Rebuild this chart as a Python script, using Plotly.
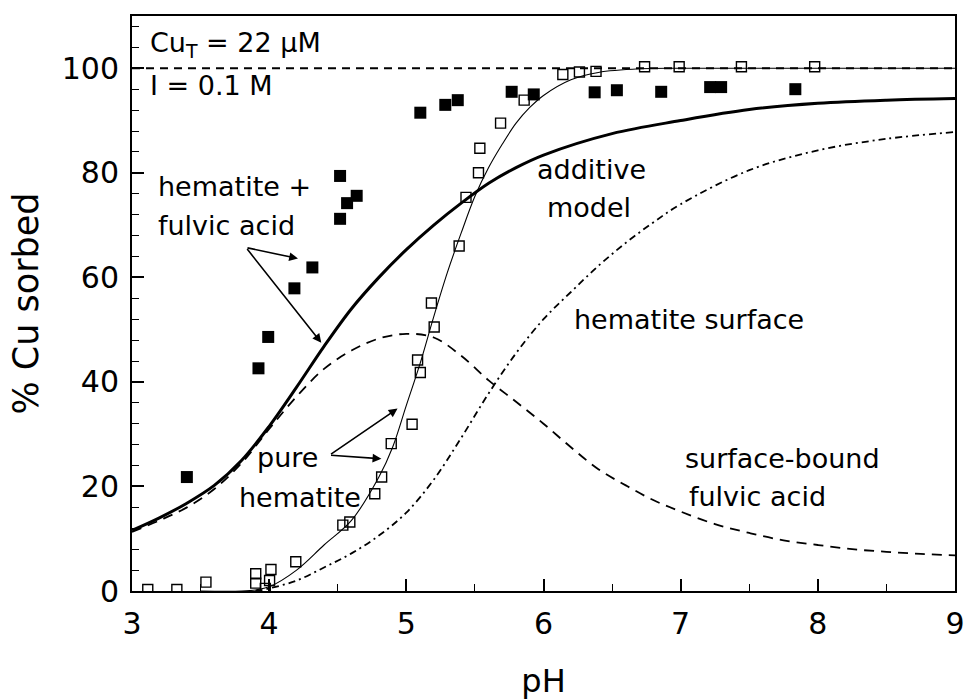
import plotly.graph_objects as go

# ---------------- data ----------------
# hematite + fulvic acid (filled squares)
ph_fa = [3.40, 3.922, 3.993, 4.184, 4.315, 4.517, 4.517, 4.568, 4.638, 5.102, 5.284, 5.375,
         5.768, 5.929, 6.373, 6.535, 6.858, 7.215, 7.295, 7.836]
cu_fa = [21.8, 42.6, 48.6, 57.9, 61.9, 71.2, 79.4, 74.2, 75.6, 91.5, 93.0, 93.9,
         95.5, 95.0, 95.4, 95.8, 95.5, 96.4, 96.4, 96.0]

# pure hematite (open squares)
ph_hem = [3.115, 3.327, 3.539, 3.902, 3.902, 3.972, 4.003, 4.013, 4.194, 4.537, 4.588, 4.770,
          4.820, 4.890, 5.042, 5.082, 5.102, 5.183, 5.203, 5.385, 5.435, 5.526, 5.536, 5.687,
          5.859, 6.141, 6.262, 6.383, 6.737, 6.989, 7.443, 7.977]
cu_hem = [0.3, 0.3, 1.7, 1.5, 3.3, 0.5, 2.0, 4.1, 5.6, 12.6, 13.2, 18.6,
          21.8, 28.2, 31.9, 44.2, 41.8, 55.1, 50.5, 66.0, 75.3, 80.0, 84.7, 89.5,
          93.9, 98.8, 99.3, 99.4, 100.3, 100.3, 100.3, 100.3]

# pure hematite model (thin solid)
ph_hem_model = [3.5, 3.8, 3.9, 4.0, 4.2, 4.4, 4.6, 4.8, 4.9, 5.0, 5.1, 5.2, 5.3, 5.4,
                5.5, 5.6, 5.7, 5.8, 5.9, 6.0, 6.2, 6.4, 6.7, 7.0, 8.0, 9.0]
cu_hem_model = [0.0, 0.0, 0.2, 0.8, 4.0, 8.8, 13.5, 21.8, 27.5, 35.5, 43.5, 52.5, 61.0, 68.5,
                75.5, 81.0, 85.5, 89.5, 92.5, 94.8, 97.8, 99.2, 99.9, 100.0, 100.0, 100.0]

# additive model (thick solid)
ph_add = [3.0, 3.2, 3.4, 3.6, 3.8, 4.0, 4.2, 4.4, 4.6, 4.8, 5.0, 5.2, 5.4, 5.6, 5.8,
          6.0, 6.5, 7.0, 7.5, 8.0, 8.5, 9.0]
cu_add = [11.6, 14.0, 16.8, 20.2, 25.0, 31.5, 39.0, 46.8, 54.0, 60.0, 65.3, 70.0, 74.2,
          78.0, 81.0, 83.4, 87.5, 90.0, 92.1, 93.3, 93.9, 94.2]

# surface-bound fulvic acid (dashed)
ph_sfa = [3.0, 3.2, 3.4, 3.6, 3.8, 4.0, 4.2, 4.4, 4.6, 4.8, 5.0, 5.2, 5.4, 5.6, 5.8,
          6.0, 6.2, 6.4, 6.6, 6.8, 7.0, 7.25, 7.5, 7.75, 8.0, 8.25, 8.5, 8.75, 9.0]
cu_sfa = [11.3, 13.5, 16.0, 19.5, 24.5, 31.0, 37.2, 42.5, 46.0, 48.3, 49.2, 48.5, 45.0,
          40.3, 36.2, 32.0, 27.5, 23.3, 20.2, 17.4, 15.2, 12.8, 11.1, 9.7, 8.8, 8.0,
          7.5, 7.1, 6.8]

# hematite surface (dash-dot)
ph_hs = [3.9, 4.0, 4.2, 4.4, 4.6, 4.8, 5.0, 5.2, 5.4, 5.6, 5.8, 6.0, 6.2, 6.4, 6.6,
         6.8, 7.0, 7.5, 8.0, 8.5, 9.0]
cu_hs = [0.0, 0.5, 2.0, 4.5, 7.2, 10.6, 15.0, 21.3, 29.3, 37.8, 45.5, 52.0, 57.2, 62.2,
         66.6, 70.5, 74.0, 80.5, 84.3, 86.5, 87.8]

# 100 % reference line
ph_ref = [3.0, 9.0]
cu_ref = [100.0, 100.0]

x_ticks = [3, 4, 5, 6, 7, 8, 9]
y_ticks = [0, 20, 40, 60, 80, 100]

FONT = "DejaVu Sans"

fig = go.Figure()

fig.add_trace(go.Scatter(x=ph_ref, y=cu_ref, mode="lines",
                         line=dict(color="black", width=1.8, dash="8px,6px")))
fig.add_trace(go.Scatter(x=ph_hs, y=cu_hs, mode="lines", line_shape="spline",
                         line=dict(color="black", width=1.8, dash="7px,4px,2px,4px")))
fig.add_trace(go.Scatter(x=ph_sfa, y=cu_sfa, mode="lines", line_shape="spline",
                         line=dict(color="black", width=1.8, dash="10px,7px")))
fig.add_trace(go.Scatter(x=ph_add, y=cu_add, mode="lines", line_shape="spline",
                         line=dict(color="black", width=3)))
fig.add_trace(go.Scatter(x=ph_hem_model, y=cu_hem_model, mode="lines", line_shape="spline",
                         line=dict(color="black", width=1.1)))
fig.add_trace(go.Scatter(x=ph_hem, y=cu_hem, mode="markers", cliponaxis=True,
                         marker=dict(symbol="square-open", size=10, color="black",
                                     line=dict(width=1.4, color="black"))))
fig.add_trace(go.Scatter(x=ph_fa, y=cu_fa, mode="markers",
                         marker=dict(symbol="square", size=12, color="black",
                                     line=dict(width=0))))

def label(text, x, y, anchor="center"):
    return dict(text=text, x=x, y=y, xref="x", yref="y", showarrow=False,
                xanchor=anchor, yanchor="middle",
                font=dict(family=FONT, size=27, color="black"))

def arrow(x, y, ax, ay):
    return dict(text="", x=x, y=y, ax=ax, ay=ay, xref="x", yref="y",
                axref="x", ayref="y", showarrow=True, arrowhead=2,
                arrowsize=1.1, arrowwidth=1.6, arrowcolor="black",
                standoff=0, startstandoff=0)

annotations = [
    label("Cu<sub>T</sub> = 22 µM", 3.115, 104.6, "left"),
    label("I = 0.1 M", 3.115, 96.7, "left"),
    label("hematite +", 3.176, 77.4, "left"),
    label("fulvic acid", 3.176, 69.9, "left"),
    label("additive", 6.349, 80.6),
    label("model", 6.330, 73.3),
    label("hematite surface", 7.059, 52.0),
    label("pure", 4.131, 25.6),
    label("hematite", 4.222, 17.9),
    label("surface-bound", 7.741, 25.4),
    label("fulvic acid", 7.562, 18.0),
    arrow(4.210, 63.6, 3.831, 65.7),
    arrow(4.380, 47.5, 3.831, 65.7),
    arrow(4.936, 34.9, 4.440, 26.0),
    arrow(4.818, 25.3, 4.440, 26.0),
]

axis_common = dict(
    showline=True, linewidth=2, linecolor="black", mirror=True, automargin=False,
    showgrid=False, zeroline=False, ticks="inside", ticklen=12, tickwidth=1.6,
    tickcolor="black", tickfont=dict(family=FONT, size=30, color="black"),
    ticklabeloverflow="allow",
)

fig.update_layout(
    width=967, height=700,
    margin=dict(l=132, r=12, t=16, b=109),
    paper_bgcolor="white", plot_bgcolor="white",
    showlegend=False,
    annotations=annotations,
    xaxis=dict(range=[3, 9], tickvals=x_ticks,
               minor=dict(dtick=0.5, ticks="inside", ticklen=7, tickwidth=1.4, tickcolor="black"),
               ticklabelstandoff=5,
               title=dict(text="pH", font=dict(family=FONT, size=32, color="black"), standoff=45),
               **axis_common),
    yaxis=dict(range=[0, 110], tickvals=y_ticks,
               minor=dict(dtick=4, ticks="inside", ticklen=7, tickwidth=1.4, tickcolor="black"),
               ticklabelstandoff=5,
               title=dict(text="% Cu sorbed", font=dict(family=FONT, size=35, color="black"), standoff=12),
               **axis_common),
)

# remove the default 8px page margin so the 967x700 figure fills the window exactly
fig.write_html(
    "out.html",
    config={"displayModeBar": False},
    post_script="document.body.style.margin='0';document.body.style.overflow='hidden';",
)
